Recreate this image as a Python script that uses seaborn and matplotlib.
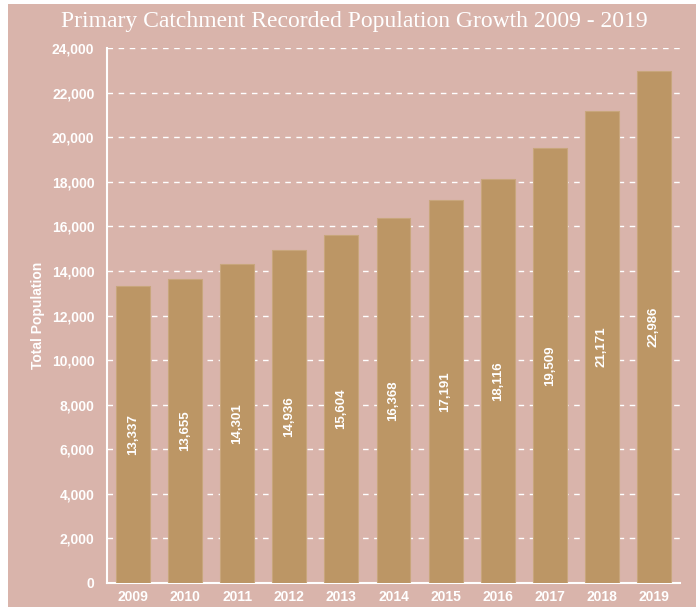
import matplotlib
matplotlib.use("Agg")
import matplotlib.pyplot as plt
import matplotlib.patches as mpatches
import seaborn as sns
import pandas as pd

years = ["2009", "2010", "2011", "2012", "2013", "2014", "2015", "2016", "2017", "2018", "2019"]
population = [13337, 13655, 14301, 14936, 15604, 16368, 17191, 18116, 19509, 21171, 22986]
yticks = list(range(0, 24001, 2000))

BG = "#D9B4AB"
BAR = "#BC9665"
EDGE = "#C8A67C"

sns.set_theme(style="white")
plt.rcParams["font.family"] = ["Liberation Sans", "DejaVu Sans"]

df = pd.DataFrame({"Year": years, "Population": population})

fig = plt.figure(figsize=(6.96, 6.07), dpi=100, facecolor="white")
fig.patches.append(mpatches.Rectangle((8 / 696, 0), 1 - 8 / 696, 1 - 4 / 607,
                                      transform=fig.transFigure, facecolor=BG,
                                      edgecolor="none", zorder=-10))
W, H = 696, 607
ax = fig.add_axes([107 / W, 1 - 583 / H, (680 - 107) / W, (583 - 48) / H])
ax.set_facecolor("none")

sns.barplot(data=df, x="Year", y="Population", color=BAR, width=0.65,
            edgecolor=EDGE, linewidth=0.8, saturation=1, ax=ax, zorder=3)

ax.set_xlim(-0.5, len(years) - 0.5)
ax.set_ylim(0, 24000)
ax.set_yticks(yticks)
ax.set_yticklabels([f"{v:,}" for v in yticks])
ax.yaxis.grid(True, color="white", linestyle=(0, (4, 4)), linewidth=1.0, zorder=0)
ax.set_axisbelow(True)

for s in ["top", "right"]:
    ax.spines[s].set_visible(False)
for s in ["left", "bottom"]:
    ax.spines[s].set_color("white")
    ax.spines[s].set_linewidth(1.5)

ax.tick_params(axis="y", length=0, pad=9, labelsize=10, labelcolor="white")
ax.tick_params(axis="x", length=0, pad=5, labelsize=10, labelcolor="white")
for lab in ax.get_xticklabels() + ax.get_yticklabels():
    lab.set_fontweight("bold")

ax.set_xlabel("")
ax.set_ylabel("Total Population", color="white", fontsize=10, fontweight="bold", labelpad=5)

for i, v in enumerate(population):
    ax.text(i, v / 2, f"{v:,}", rotation=90, ha="center", va="center",
            color="white", fontsize=9.5, fontweight="bold", zorder=5)

fig.text(354 / W, 1 - 21 / H, "Primary Catchment Recorded Population Growth 2009 - 2019",
         ha="center", va="center", color="white", fontsize=17,
         family=["Liberation Serif", "DejaVu Serif"])

fig.savefig("out.png", dpi=100, facecolor="white")
